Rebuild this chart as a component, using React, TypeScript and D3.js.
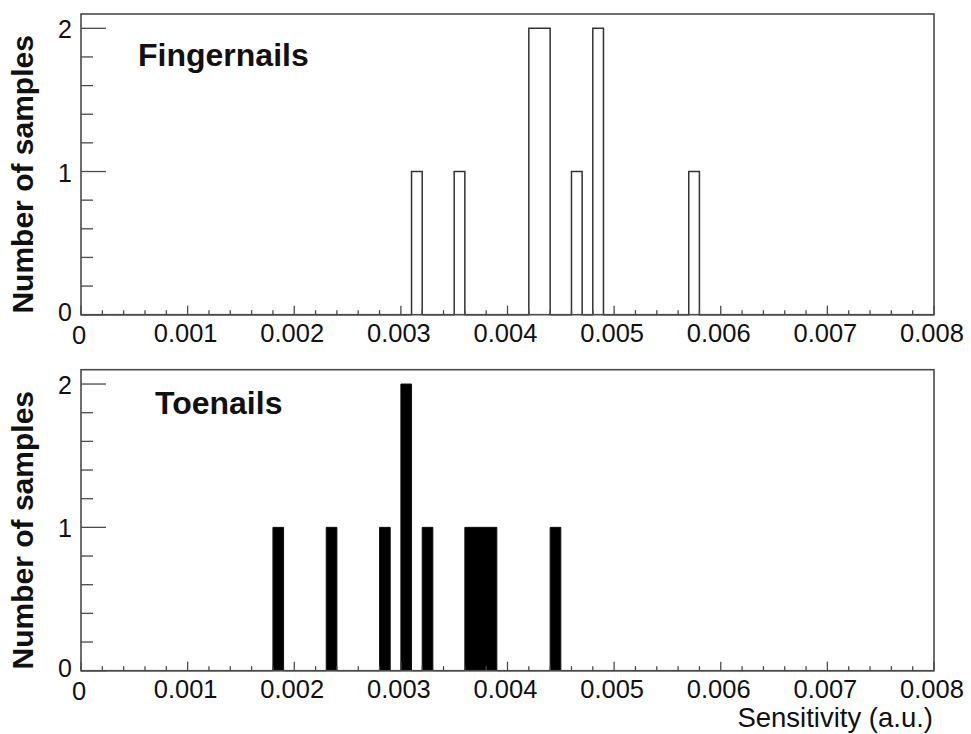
import React, { useEffect, useRef } from 'react';
import * as d3 from 'd3';

const width = 971;
const height = 734;

const binWidth = 0.0001;
const xMax = 0.008;

// non-empty bins (lower edge) and their counts
const fingerBins = [0.0031, 0.0035, 0.0042, 0.0043, 0.0046, 0.0048, 0.0057];
const fingerCounts = [1, 1, 2, 2, 1, 2, 1];

const toeBins = [0.0018, 0.0023, 0.0028, 0.0030, 0.0032, 0.0036, 0.0037, 0.0038, 0.0044];
const toeCounts = [1, 1, 1, 2, 1, 1, 1, 1, 1];

const xTicks = [0, 0.001, 0.002, 0.003, 0.004, 0.005, 0.006, 0.007, 0.008];
const xTickLabels = ['0', '0.001', '0.002', '0.003', '0.004', '0.005', '0.006', '0.007', '0.008'];
const yTicks = [0, 1, 2];

const font = "'Liberation Sans', Arial, Helvetica, sans-serif";
const frameColor = '#4a4a4a';

const panels = [
  { top: 14, bottom: 314.7, title: 'Fingernails', titleX: 138, titleY: 66, bins: fingerBins, counts: fingerCounts, filled: false },
  { top: 369.7, bottom: 670.7, title: 'Toenails', titleX: 155, titleY: 414, bins: toeBins, counts: toeCounts, filled: true },
];

const buildHist = (bins: number[], counts: number[]) => {
  const n = Math.round(xMax / binWidth);
  const values = new Array(n).fill(0);
  bins.forEach((b, i) => {
    values[Math.round(b / binWidth)] = counts[i];
  });
  const pts = values.map((v, i) => ({ x: i * binWidth, y: v }));
  pts.push({ x: xMax, y: values[n - 1] });
  return pts;
};

const Chart = () => {
  const svgRef = useRef<SVGSVGElement>(null);

  useEffect(() => {
    const svg = d3.select(svgRef.current);
    svg.selectAll('*').remove();

    const xScale = d3.scaleLinear().domain([0, xMax]).range([81, 934]);

    panels.forEach((p) => {
      const yScale = d3.scaleLinear().domain([0, 2.1]).range([p.bottom, p.top]);
      const g = svg.append('g');
      const hist = buildHist(p.bins, p.counts);

      if (p.filled) {
        const area = d3.area<{ x: number; y: number }>()
          .x(d => xScale(d.x))
          .y0(yScale(0))
          .y1(d => yScale(d.y))
          .curve(d3.curveStepAfter);
        g.append('path')
          .datum(hist)
          .attr('fill', '#000')
          .attr('stroke', '#111')
          .attr('stroke-width', 1)
          .attr('d', area);
      } else {
        const line = d3.line<{ x: number; y: number }>()
          .x(d => xScale(d.x))
          .y(d => yScale(d.y))
          .curve(d3.curveStepAfter);
        g.append('path')
          .datum(hist)
          .attr('fill', 'none')
          .attr('stroke', '#333')
          .attr('stroke-width', 1.5)
          .attr('d', line);
      }

      // frame
      g.append('rect')
        .attr('x', xScale(0))
        .attr('y', p.top)
        .attr('width', xScale(xMax) - xScale(0))
        .attr('height', p.bottom - p.top)
        .attr('fill', 'none')
        .attr('stroke', frameColor)
        .attr('stroke-width', 1.6);

      // x ticks: major every 0.001, minor every 0.0002
      const xMinor = d3.range(0, 41).map(i => i * 0.0002);
      g.selectAll('.xtick')
        .data(xMinor)
        .enter().append('line')
        .attr('x1', d => xScale(d))
        .attr('x2', d => xScale(d))
        .attr('y1', p.bottom)
        .attr('y2', (d, i) => p.bottom - (i % 5 === 0 ? 9 : 4.5))
        .attr('stroke', frameColor)
        .attr('stroke-width', 1.3);

      // y ticks: major every 1, minor every 0.2
      const yMinor = d3.range(0, 11).map(i => i * 0.2);
      g.selectAll('.ytick')
        .data(yMinor)
        .enter().append('line')
        .attr('x1', xScale(0))
        .attr('x2', (d, i) => xScale(0) + (i % 5 === 0 ? 25 : 12))
        .attr('y1', d => yScale(d))
        .attr('y2', d => yScale(d))
        .attr('stroke', frameColor)
        .attr('stroke-width', 1.3);

      g.selectAll('.xlabel')
        .data(xTicks)
        .enter().append('text')
        .attr('x', d => xScale(d) - 2)
        .attr('y', (d, i) => p.bottom + 27 + (i === 0 ? 2 : 0))
        .attr('text-anchor', 'middle')
        .attr('font-family', font)
        .attr('font-size', 25.5)
        .attr('fill', '#111')
        .text((d, i) => xTickLabels[i]);

      g.selectAll('.ylabel')
        .data(yTicks)
        .enter().append('text')
        .attr('x', 72)
        .attr('y', d => yScale(d) + (d === 0 ? -3 : 1))
        .attr('text-anchor', 'end')
        .attr('dominant-baseline', 'central')
        .attr('font-family', font)
        .attr('font-size', 25)
        .attr('fill', '#111')
        .text(d => String(d));

      g.append('text')
        .attr('x', p.titleX)
        .attr('y', p.titleY)
        .attr('font-family', font)
        .attr('font-size', 32)
        .attr('font-weight', 'bold')
        .attr('fill', '#111')
        .text(p.title);

      g.append('text')
        .attr('transform', `translate(33,${(p.top + p.bottom) / 2 + 10}) rotate(-90)`)
        .attr('text-anchor', 'middle')
        .attr('font-family', font)
        .attr('font-size', 30)
        .attr('font-weight', 'bold')
        .attr('fill', '#111')
        .text('Number of samples');
    });

    svg.append('text')
      .attr('x', 933)
      .attr('y', 727)
      .attr('text-anchor', 'end')
      .attr('font-family', font)
      .attr('font-size', 27.5)
      .attr('fill', '#111')
      .text('Sensitivity (a.u.)');
  }, []);

  return <svg ref={svgRef} width={width} height={height} style={{ display: 'block', background: '#fff' }}></svg>;
};

export default function App() {
  return (
    <div style={{ position: 'absolute', left: 0, top: 0 }}>
      <Chart />
    </div>
  );
}
